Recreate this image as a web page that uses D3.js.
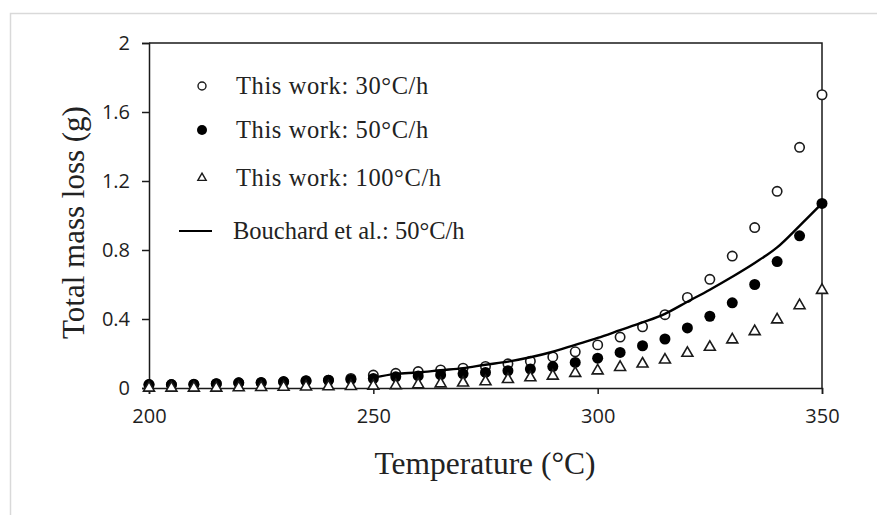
<!DOCTYPE html>
<html>
<head>
<meta charset="utf-8">
<script src="https://cdn.jsdelivr.net/npm/d3@7"></script>
<style>
  html, body { margin: 0; padding: 0; background: #ffffff; }
  svg { display: block; }
</style>
</head>
<body>
<svg id="chart" width="877" height="515"></svg>
<script>
// Heating temperature (°C), sampled every 5 °C
const temps = [200, 205, 210, 215, 220, 225, 230, 235, 240, 245,
               250, 255, 260, 265, 270, 275, 280, 285, 290, 295,
               300, 305, 310, 315, 320, 325, 330, 335, 340, 345, 350];

// Total mass loss (g), this work, three heating rates
const loss30 = [0.020, 0.020, 0.020, 0.025, 0.030, 0.030, 0.035, 0.040, 0.045, 0.055,
                0.075, 0.085, 0.095, 0.105, 0.115, 0.125, 0.140, 0.155, 0.180, 0.210,
                0.250, 0.295, 0.355, 0.425, 0.525, 0.630, 0.765, 0.930, 1.140, 1.395, 1.700];
const loss50 = [0.020, 0.020, 0.022, 0.025, 0.030, 0.032, 0.037, 0.042, 0.045, 0.050,
                0.055, 0.065, 0.070, 0.076, 0.082, 0.090, 0.100, 0.110, 0.124, 0.148,
                0.173, 0.206, 0.245, 0.284, 0.348, 0.416, 0.494, 0.600, 0.733, 0.882, 1.070];
const loss100 = [0.000, 0.000, 0.000, 0.000, 0.002, 0.004, 0.005, 0.007, 0.008, 0.010,
                 0.012, 0.015, 0.020, 0.025, 0.030, 0.037, 0.050, 0.060, 0.070, 0.086,
                 0.100, 0.120, 0.140, 0.163, 0.202, 0.237, 0.280, 0.328, 0.396, 0.478, 0.567];

// Bouchard et al., 50 °C/h
const bouchardTemps = [250, 255, 260, 265, 270, 275, 280, 285, 290, 295, 300,
                       305, 310, 315, 320, 325, 330, 335, 340, 345, 350];
const bouchardLoss = [0.060, 0.082, 0.090, 0.103, 0.115, 0.135, 0.153, 0.178, 0.210, 0.250, 0.290,
                      0.335, 0.380, 0.430, 0.500, 0.570, 0.645, 0.725, 0.815, 0.940, 1.070];

const xTicks = [200, 250, 300, 350];
const yTicks = [0, 0.4, 0.8, 1.2, 1.6, 2];
const yTickLabels = ["0", "0.4", "0.8", "1.2", "1.6", "2"];

const legendLabels = ["This work: 30°C/h", "This work: 50°C/h", "This work: 100°C/h", "Bouchard et al.: 50°C/h"];

const svg = d3.select("#chart");
const ink = "#1a1a1a";
const serif = "'Liberation Serif', 'Times New Roman', serif";
const sans = "'Open Sans', 'Liberation Sans', sans-serif";

// chart area frame
svg.append("rect")
  .attr("x", 10.5).attr("y", 13.5)
  .attr("width", 900).attr("height", 600)
  .attr("fill", "none").attr("stroke", "#d9d9d9").attr("stroke-width", 1.5);

const plot = { left: 149, right: 822, top: 43, bottom: 388 };

const x = d3.scaleLinear().domain([200, 350]).range([plot.left, plot.right]);
const y = d3.scaleLinear().domain([0, 2]).range([plot.bottom, plot.top]);

// plot box: top and right edges
svg.append("path")
  .attr("d", `M${plot.left},${plot.top}H${plot.right}V${plot.bottom}`)
  .attr("fill", "none").attr("stroke", ink).attr("stroke-width", 1.5);

// axes
const xAxis = svg.append("g")
  .attr("transform", `translate(0,${plot.bottom})`)
  .call(d3.axisBottom(x).tickValues(xTicks).tickSize(6).tickPadding(15).tickFormat(d3.format("d")));
const yAxis = svg.append("g")
  .attr("transform", `translate(${plot.left},0)`)
  .call(d3.axisLeft(y).tickValues(yTicks).tickSize(7).tickPadding(12)
        .tickFormat((d, i) => yTickLabels[i]));

[xAxis, yAxis].forEach(g => {
  g.select(".domain").attr("stroke", ink).attr("stroke-width", 1.5);
  g.selectAll(".tick line").attr("stroke", ink).attr("stroke-width", 1.5);
  g.selectAll(".tick text").attr("fill", "#1e1e1e").style("font-family", sans).style("font-size", "20px");
});

// series markers
const r = 5.5;
const triangle = d3.symbol().type(d3.symbolTriangle).size(52);

svg.append("g").selectAll("circle")
  .data(temps.map((t, i) => [t, loss30[i]]))
  .join("circle")
  .attr("cx", d => x(d[0])).attr("cy", d => y(d[1])).attr("r", r - 0.8)
  .attr("fill", "#fff").attr("stroke", ink).attr("stroke-width", 1.6);

svg.append("g").selectAll("circle")
  .data(temps.map((t, i) => [t, loss50[i]]))
  .join("circle")
  .attr("cx", d => x(d[0])).attr("cy", d => y(d[1])).attr("r", r)
  .attr("fill", "#000");

svg.append("g").selectAll("path")
  .data(temps.map((t, i) => [t, loss100[i]]))
  .join("path")
  .attr("d", triangle)
  .attr("transform", d => `translate(${x(d[0])},${y(d[1])})`)
  .attr("fill", "#fff").attr("stroke", ink).attr("stroke-width", 1.6);

const line = d3.line().x(d => x(d[0])).y(d => y(d[1])).curve(d3.curveMonotoneX);
svg.append("path")
  .datum(bouchardTemps.map((t, i) => [t, bouchardLoss[i]]))
  .attr("d", line)
  .attr("fill", "none").attr("stroke", "#000").attr("stroke-width", 2.4);

// legend
const legend = svg.append("g");
const rowsY = [86, 130, 178, 231];
const textX = 236;
legend.append("circle").attr("cx", 202).attr("cy", rowsY[0]).attr("r", 4)
  .attr("fill", "#fff").attr("stroke", ink).attr("stroke-width", 1.4);
legend.append("circle").attr("cx", 202).attr("cy", rowsY[1]).attr("r", 5).attr("fill", "#000");
legend.append("path").attr("d", d3.symbol().type(d3.symbolTriangle).size(30))
  .attr("transform", `translate(202,${rowsY[2]})`)
  .attr("fill", "#fff").attr("stroke", ink).attr("stroke-width", 1.4);
legend.append("line").attr("x1", 179).attr("x2", 212).attr("y1", rowsY[3]).attr("y2", rowsY[3])
  .attr("stroke", "#000").attr("stroke-width", 2);

legend.selectAll("text")
  .data(legendLabels)
  .join("text")
  .attr("x", (d, i) => i === 3 ? textX - 3 : textX)
  .attr("y", (d, i) => rowsY[i])
  .attr("dy", "0.33em")
  .attr("fill", "#222")
  .style("font-family", serif).style("font-size", "24.5px")
  .style("letter-spacing", (d, i) => i === 3 ? "0px" : "0.6px")
  .text(d => d);

// axis titles
svg.append("text")
  .attr("x", 485).attr("y", 474)
  .attr("text-anchor", "middle").attr("fill", "#222")
  .style("font-family", serif).style("font-size", "31.5px")
  .text("Temperature (°C)");

svg.append("text")
  .attr("transform", `translate(84,${(plot.top + plot.bottom) / 2 + 7}) rotate(-90)`)
  .attr("text-anchor", "middle").attr("fill", "#222")
  .style("font-family", serif).style("font-size", "31px")
  .text("Total mass loss (g)");
</script>
</body>
</html>
